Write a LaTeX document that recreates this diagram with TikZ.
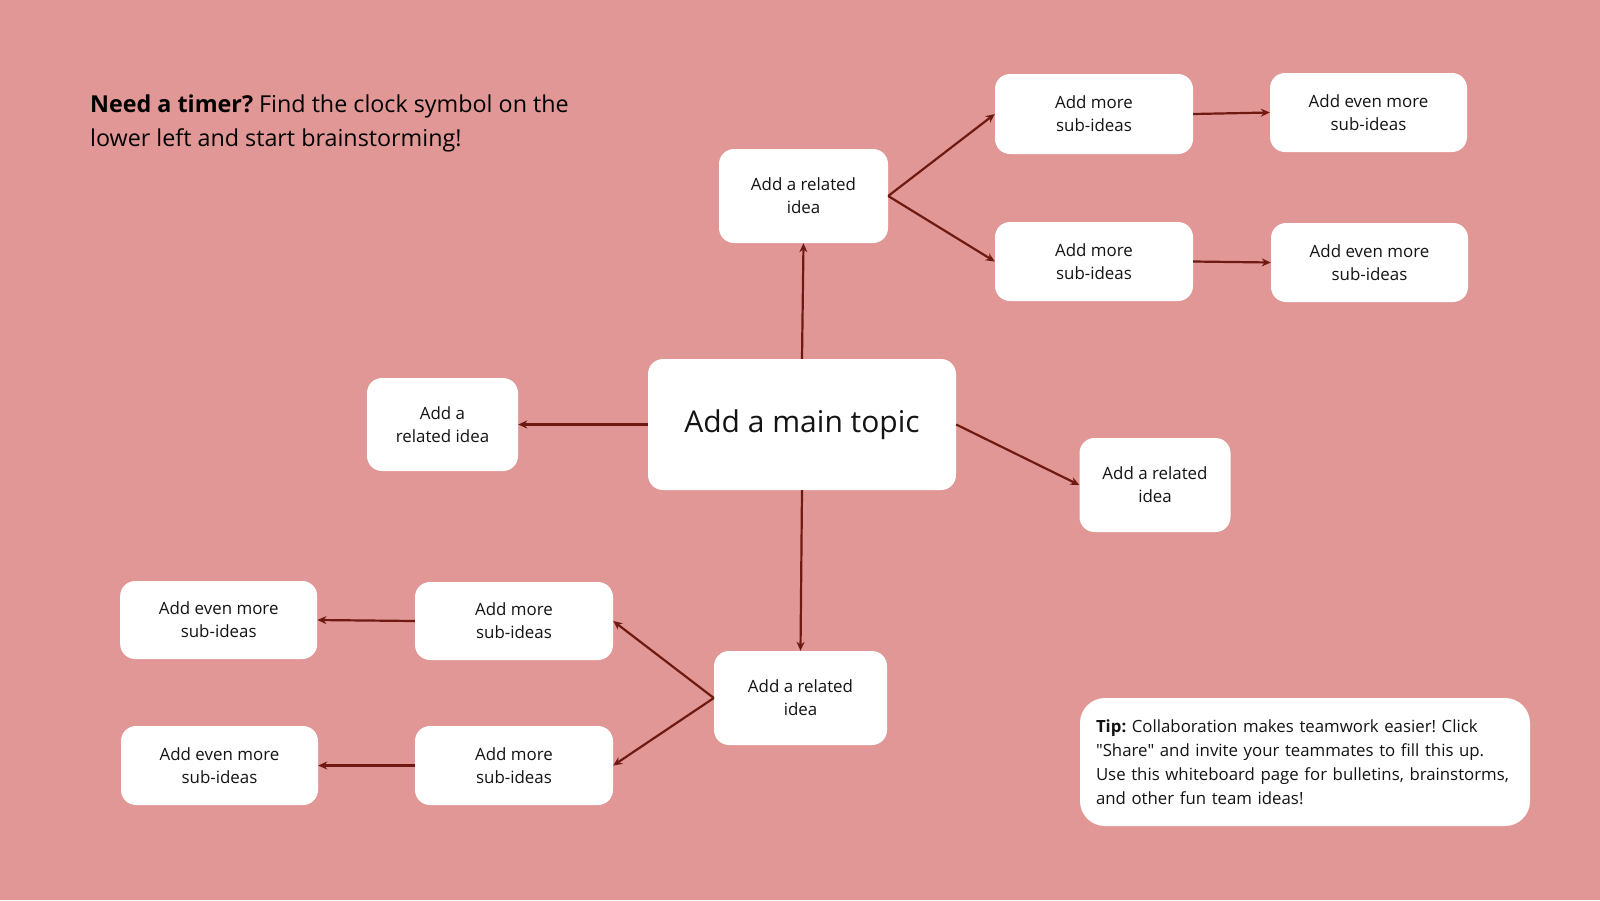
\documentclass[tikz,border=0pt]{standalone}
\usepackage{fontspec}
\setmainfont{Open Sans}
\usetikzlibrary{arrows.meta}
\definecolor{bgc}{HTML}{E09795}
\definecolor{arrc}{HTML}{6E1A12}
\definecolor{txt}{HTML}{141414}
\tikzset{
  box/.style={fill=white, rounded corners=15, inner sep=0, align=center, text=txt,
    font=\fontsize{16.9}{23}\selectfont},
  subbox/.style={box, minimum width=198, minimum height=79},
  relbox/.style={box, minimum height=94},
  conn/.style={draw=arrc, line width=2.2, -{Stealth[length=9,width=8]}}
}
\begin{document}
\frenchspacing
\begin{tikzpicture}[x=1pt,y=-1pt]
\fill[bgc] (0,0) rectangle (1600,900);
\useasboundingbox (0,0) rectangle (1600,900);

% title text
\node[anchor=west, text=black, font=\fontsize{23.3}{34}\selectfont, align=left, inner sep=0] (title) at (90,123)
  {\textbf{Need a timer?} Find the clock symbol on the\\lower left and start brainstorming!};

% main
\node[box, minimum width=308, minimum height=131, font=\fontsize{30}{34}\selectfont] (main) at (802,424.5) {Add a main topic};

% related ideas
\node[relbox, minimum width=169] (top) at (803.5,196) {Add a related\\idea};
\node[relbox, minimum width=151, minimum height=93] (left) at (442.5,424.5) {Add a\\related idea};
\node[relbox, minimum width=151] (right) at (1155,485) {Add a related\\idea};
\node[relbox, minimum width=173] (bot) at (800.5,698) {Add a related\\idea};

% top-right subs
\node[subbox, minimum height=80] (tr1) at (1094,114) {Add more\\sub-ideas};
\node[subbox] (tr2) at (1094,261.5) {Add more\\sub-ideas};
\node[subbox, minimum width=197] (fr1) at (1368.5,112.5) {Add even more\\sub-ideas};
\node[subbox, minimum width=197] (fr2) at (1369.5,262.5) {Add even more\\sub-ideas};

% bottom-left subs
\node[subbox, minimum height=78] (bl1) at (514,621) {Add more\\sub-ideas};
\node[subbox] (bl2) at (514,765.5) {Add more\\sub-ideas};
\node[subbox, minimum width=197, minimum height=78] (fl1) at (218.7,620) {Add even more\\sub-ideas};
\node[subbox, minimum width=197] (fl2) at (219.5,765.5) {Add even more\\sub-ideas};

% tip
\node[box, rounded corners=25, minimum width=450, minimum height=128, align=left,
  font=\fontsize{16.8}{24}\selectfont, text width=418] (tip) at (1305,762)
  {\textbf{Tip:} Collaboration makes teamwork easier! Click\\
   \textquotedbl Share\textquotedbl{} and invite your teammates to fill this up.\\
   Use this whiteboard page for bulletins, brainstorms,\\
   and other fun team ideas!};

% connectors
\draw[conn] (main.north) -- (top.south);
\draw[conn] (main.west) -- (left.east);
\draw[conn] (main.east) -- (right.west);
\draw[conn] (main.south) -- (bot.north);
\draw[conn] (top.east) -- (tr1.west);
\draw[conn] (top.east) -- (tr2.west);
\draw[conn] (tr1.east) -- (fr1.west);
\draw[conn] (tr2.east) -- (fr2.west);
\draw[conn] (bot.west) -- (bl1.east);
\draw[conn] (bot.west) -- (bl2.east);
\draw[conn] (bl1.west) -- (fl1.east);
\draw[conn] (bl2.west) -- (fl2.east);
\end{tikzpicture}
\end{document}
